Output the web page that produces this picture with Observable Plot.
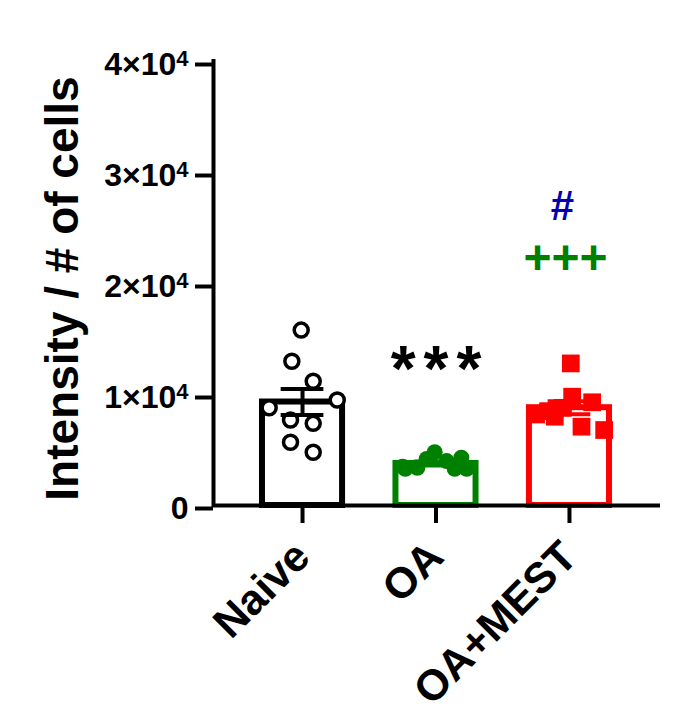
<!DOCTYPE html>
<html><head><meta charset="utf-8">
<script src="https://cdn.jsdelivr.net/npm/d3@7"></script>
<script src="https://cdn.jsdelivr.net/npm/@observablehq/plot@0.6"></script>
<style>body{margin:0;background:#fff;} svg{display:block}</style>
</head><body><div id="chart"></div>
<script>
// ---- data ----
const categories = ["Naive", "OA", "OA+MEST"];
const groupColors = ["#000000", "#008000", "#ff0000"];
const naiveValues = [15800, 13000, 11200, 9500, 8800, 7700, 7400, 5700, 4800];
const naiveJitter = [-0.01, -0.08, 0.08, 0.26, -0.25, -0.09, 0.08, -0.09, 0.08];
const oaValues = [3500, 3400, 4200, 4800, 4000, 4300, 3300, 3300, 3300];
const oaJitter = [-0.25, -0.14, -0.07, -0.01, 0.08, 0.19, 0.14, 0.23, -0.23];
const mestValues = [12800, 9800, 9300, 8800, 8200, 8000, 7100, 6800, 8500];
const mestJitter = [0.01, 0.02, 0.17, -0.05, -0.25, -0.11, 0.09, 0.26, -0.16];
const yTicks = [0, 10000, 20000, 30000, 40000];
const yLabel = "Intensity / # of cells";
const annotations = [
  {i: 1, y: 12200, text: "***", color: "#000000"},
  {i: 2, y: 22200, text: "+++", color: "#008000"},
  {i: 2, y: 26900, text: "#", color: "#0000b0"}
];

// ---- derived tables ----
const valueSets = [naiveValues, oaValues, mestValues];
const jitterSets = [naiveJitter, oaJitter, mestJitter];
const points = valueSets.flatMap((vals, i) => vals.map((v, k) => ({
  group: categories[i], i, x: i + jitterSets[i][k], value: v
})));
const summary = valueSets.map((vals, i) => ({
  group: categories[i], i,
  mean: d3.mean(vals),
  sem: d3.deviation(vals) / Math.sqrt(vals.length)
}));
const xDomain = [-0.667, 2.682];
const barHalf = 0.3, capHalf = 0.16;
const annStyle = {
  "***": {fontSize: 64, dx: 4, dy: 0},
  "+++": {fontSize: 48, dx: -4, dy: 0},
  "#": {fontSize: 42, dx: -7, dy: 0}
};

const chart = Plot.plot({
  width: 684, height: 722,
  marginLeft: 213, marginRight: 24, marginTop: 61, marginBottom: 217,
  style: {fontFamily: "'Liberation Sans', Arial, sans-serif", fontWeight: "bold", background: "white", color: "black"},
  x: {domain: xDomain},
  y: {domain: [0, 40000]},
  color: {domain: categories, range: groupColors},
  marks: [
    Plot.rect(summary, {x1: d => d.i - barHalf, x2: d => d.i + barHalf, y1: 0, y2: "mean",
      fill: "white", stroke: "group", strokeWidth: 6}),
    Plot.ruleY([0], {strokeWidth: 4}),
    Plot.ruleX([xDomain[0]], {y1: 0, y2: 40000, strokeWidth: 4, strokeLinecap: "square"}),
    Plot.dot(points.filter(d => d.i === 0), {x: "x", y: "value", r: 7, fill: "white", stroke: "group", strokeWidth: 3.5}),
    Plot.dot(points.filter(d => d.i === 1), {x: "x", y: "value", r: 8, fill: "group"}),
    Plot.dot(points.filter(d => d.i === 2), {x: "x", y: "value", r: 10, symbol: "square", fill: "group"}),
    Plot.ruleX(summary, {x: "i", y1: d => d.mean - d.sem, y2: d => d.mean + d.sem, stroke: "group", strokeWidth: 4}),
    Plot.ruleY(summary, {y: d => d.mean + d.sem, x1: d => d.i - capHalf, x2: d => d.i + capHalf, stroke: "group", strokeWidth: 4}),
    Plot.ruleY(summary, {y: d => d.mean - d.sem, x1: d => d.i - capHalf, x2: d => d.i + capHalf, stroke: "group", strokeWidth: 4}),
    Plot.axisY(yTicks, {tickSize: 18, tickPadding: 7, fontSize: 32, strokeWidth: 4, dy: 3, label: null,
      tickFormat: d => d === 0 ? "0" : `${d / 10000}×10^4`}),
    Plot.axisX([0, 1, 2], {tickSize: 18, tickPadding: 26, fontSize: 43, strokeWidth: 4, tickRotate: -45, label: null,
      tickFormat: i => categories[i]}),
    Plot.text([yLabel], {frameAnchor: "left", textAnchor: "middle", rotate: -90, dx: -150, dy: 5, fontSize: 46, fontWeight: "bold"}),
    ...annotations.map(a => Plot.text([a], {x: "i", y: "y", text: "text", fill: a.color,
      fontWeight: "bold", ...annStyle[a.text]}))
  ]
});

// superscript exponents in y tick labels; spacing of the asterisks
const ns = "http://www.w3.org/2000/svg";
chart.querySelectorAll("text").forEach(t => {
  if (t.textContent === "***") t.setAttribute("letter-spacing", "8");
  const m = t.textContent.match(/^(.*)\^(\d+)$/);
  if (!m) return;
  t.textContent = "";
  const a = document.createElementNS(ns, "tspan");
  a.textContent = m[1];
  const b = document.createElementNS(ns, "tspan");
  b.textContent = m[2];
  b.setAttribute("font-size", "22");
  b.setAttribute("dy", "-9");
  t.appendChild(a); t.appendChild(b);
});
document.getElementById("chart").appendChild(chart);
</script>
</body></html>
